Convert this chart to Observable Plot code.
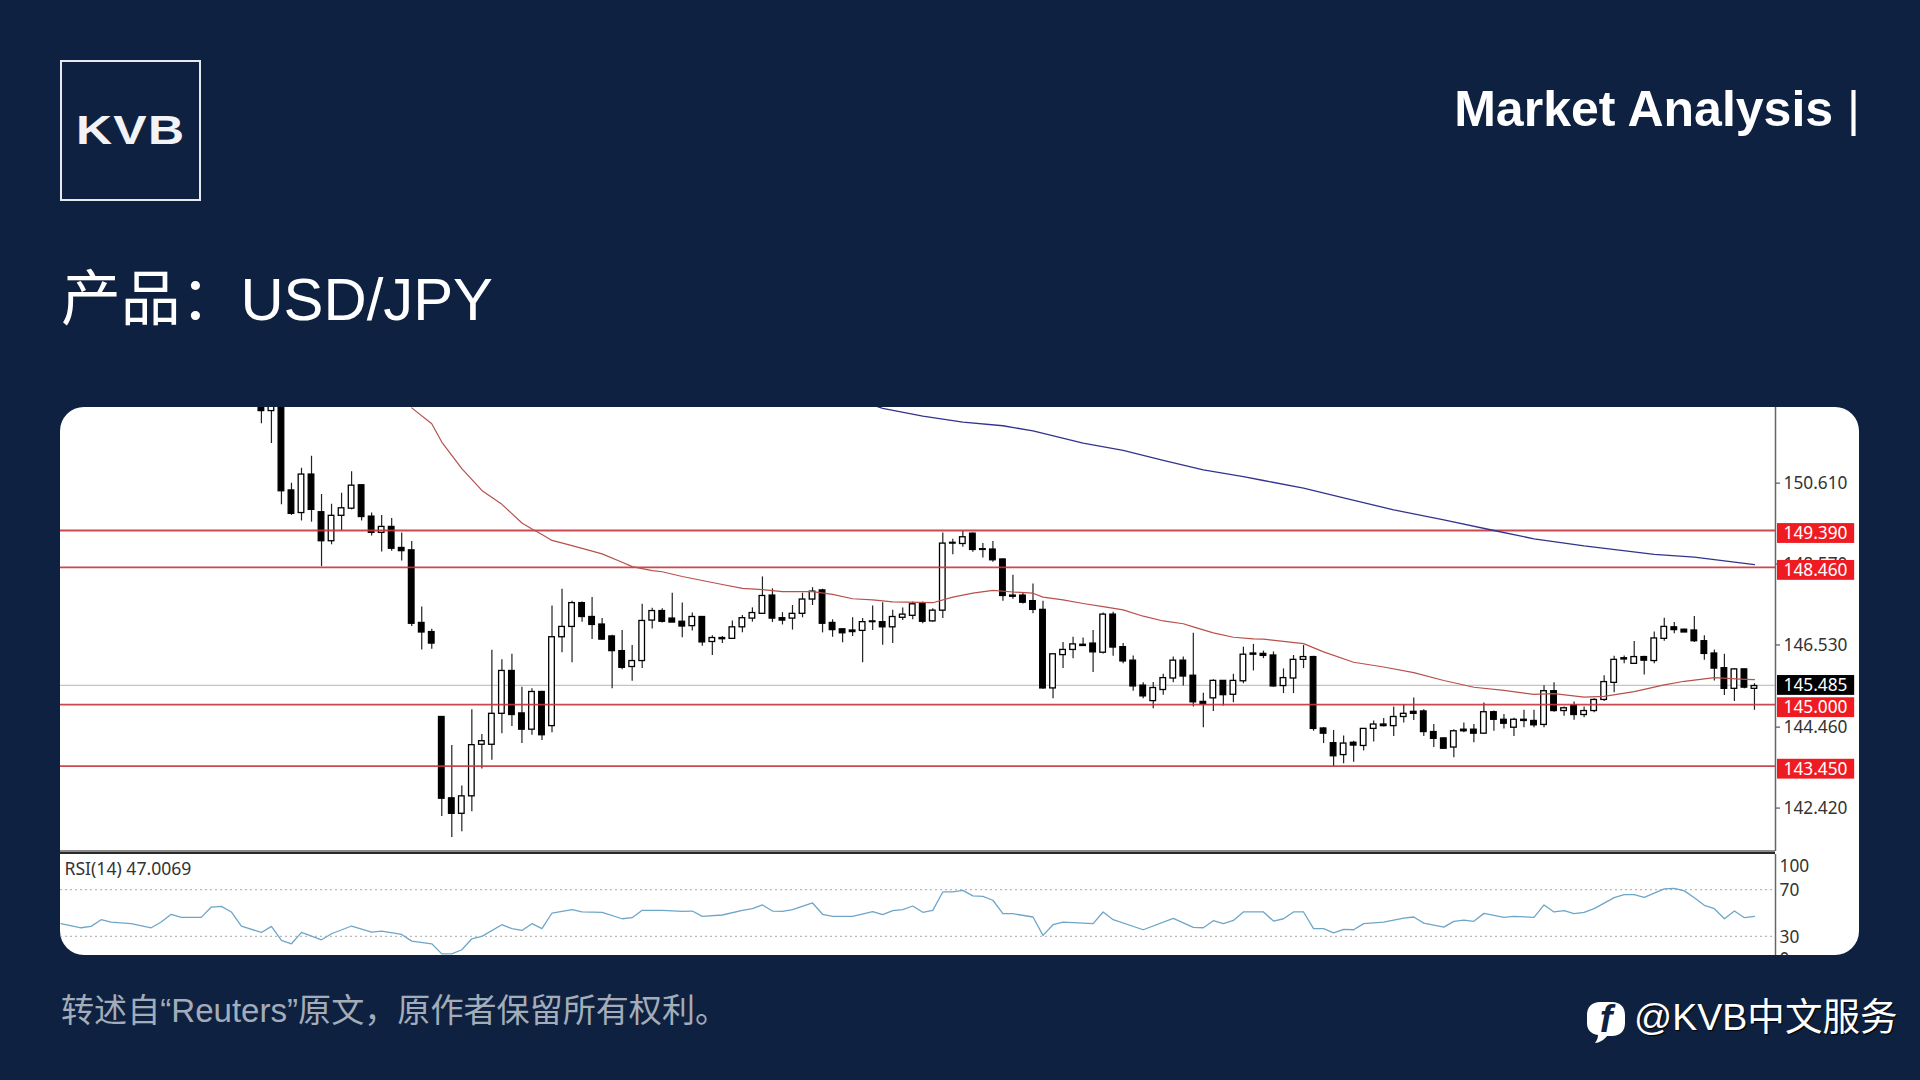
<!DOCTYPE html>
<html lang="zh"><head><meta charset="utf-8">
<script src="https://cdn.jsdelivr.net/npm/d3@7"></script>
<script src="https://cdn.jsdelivr.net/npm/@observablehq/plot@0.6"></script>
<style>
html,body{margin:0;padding:0;width:1920px;height:1080px;background:#0f2140;overflow:hidden}
body{position:relative;font-family:"Liberation Sans","Noto Sans CJK SC",sans-serif;color:#fff}
.abs{position:absolute;white-space:nowrap;line-height:1}
#panel{position:absolute;left:60px;top:407px;width:1799px;height:548px;background:#fff;border-radius:24px;overflow:hidden}
#main{position:absolute;left:0;top:0}
#rsi{position:absolute;left:0;top:447px}
#sepA{position:absolute;left:0;top:443px;width:1715px;height:2px;background:#8a8a8a}
#sepB{position:absolute;left:0;top:445px;width:1715px;height:2px;background:#2a2a2a}
svg text{font-family:inherit}
</style></head><body>
<div class="abs" style="left:60px;top:60px;width:137px;height:137px;border:2px solid #e6e9ef"></div>
<div class="abs" id="logo" style="left:76px;top:110px;font-size:40px;font-weight:700;letter-spacing:1px;transform:scaleX(1.25);transform-origin:left center;color:#f2f3f6">KVB</div>
<div class="abs" style="right:60px;top:84px;font-size:50px;font-weight:700">Market Analysis <span style="font-weight:400">|</span></div>
<div class="abs" style="left:61px;top:270px;font-size:59.8px">产品：USD/JPY</div>
<div id="panel"><div id="main"></div><div id="sepA"></div><div id="sepB"></div><div id="rsi"></div></div>
<div class="abs" style="left:61px;top:993.5px;font-size:33.1px;color:#a3adba">转述自“Reuters”原文，原作者保留所有权利。</div>
<svg class="abs" style="left:1587px;top:1002px" width="38" height="41" viewBox="0 0 38 41">
<path d="M13 0H25C33 0 38 5 38 13V21C38 29 33 34 25 34H20C17 38 12 41 8 41C10 38 11 36 11 33C4 32 0 28 0 21V13C0 5 5 0 13 0Z" fill="#fff"/>
<text x="19" y="30" text-anchor="middle" font-size="38" font-weight="700" font-style="italic" fill="#0f2140" font-family="Liberation Serif">f</text></svg>
<div class="abs" style="left:1634px;top:999px;font-size:37.6px;text-shadow:1px 1px 1px #000">@KVB中文服务</div>
<script>
// Candles (USD/JPY, prices)
const open=[152.7,152.40,152.9,150.40,149.83,150.80,149.85,149.12,149.76,149.94,150.53,149.74,149.33,149.48,148.95,148.89,147.06,146.83,144.69,142.64,142.25,142.69,143.99,143.99,144.77,145.85,144.78,144.37,145.32,144.46,146.70,146.96,147.56,147.21,147.02,146.72,146.35,145.95,146.10,147.12,147.36,147.17,147.09,146.98,147.21,146.58,146.68,146.66,146.95,147.17,147.29,147.75,147.18,147.17,147.29,147.65,147.88,147.06,146.90,146.87,146.86,147.08,147.08,146.95,147.19,147.24,147.54,147.10,147.37,149.08,149.05,149.31,148.92,148.91,148.66,147.75,147.75,147.61,147.39,145.41,146.25,146.38,146.51,146.54,146.31,147.27,146.45,146.11,145.48,145.09,145.37,145.66,146.11,145.73,145.07,145.16,145.60,145.25,145.59,146.29,146.28,146.24,145.47,145.66,146.13,146.20,144.40,144.03,143.73,144.04,143.96,144.39,144.50,144.46,144.69,144.82,144.83,144.31,144.15,143.92,144.37,144.37,144.27,144.81,144.62,144.42,144.62,144.59,144.49,145.34,144.84,144.98,144.74,144.84,145.12,145.55,146.17,146.03,146.20,146.10,146.66,146.95,146.89,146.87,146.60,146.29,145.92,145.40,145.89,145.40];
const high=[152.9,153.0,153.0,150.58,150.96,151.26,150.30,150.05,150.33,150.87,150.53,149.83,149.77,149.69,149.33,149.11,147.46,146.90,144.69,143.97,142.95,144.87,144.25,146.37,146.13,146.27,145.44,145.40,145.34,147.49,147.91,147.61,147.59,147.70,147.17,146.75,146.87,146.49,147.53,147.43,147.42,147.81,147.56,147.31,147.22,146.74,146.72,147.11,147.25,147.44,148.22,147.92,147.32,147.50,147.81,147.95,147.91,147.14,146.90,147.19,147.17,147.49,147.57,147.38,147.44,147.59,147.59,147.42,149.33,149.17,149.37,149.33,149.06,149.11,148.67,148.26,147.80,148.04,147.61,146.27,146.57,146.70,146.68,146.87,147.31,147.33,146.54,146.23,145.55,145.56,145.77,146.20,146.20,146.80,145.29,145.63,145.60,145.77,146.45,146.52,146.35,146.33,145.90,146.24,146.49,146.22,144.42,144.35,144.21,144.08,144.39,144.59,144.65,144.94,145.00,145.17,144.87,144.50,144.16,144.37,144.54,144.50,145.04,144.84,144.75,144.66,144.86,144.86,145.48,145.55,144.94,145.07,144.94,145.15,145.73,146.22,146.23,146.59,146.22,146.83,147.18,147.07,146.90,147.22,146.74,146.38,146.27,145.91,145.90,145.53];
const low=[152.08,151.58,150.04,149.77,149.63,149.60,148.48,149.03,149.39,149.91,149.63,149.25,148.85,148.87,148.62,146.97,146.38,146.40,142.18,141.65,141.80,142.30,143.38,143.60,144.27,144.45,144.02,144.23,144.10,144.29,146.31,146.06,147.08,146.64,146.62,145.40,145.88,145.59,145.91,146.91,147.06,147.07,146.69,146.86,146.47,146.24,146.54,146.65,146.81,147.08,147.28,147.07,147.01,146.88,147.19,147.50,146.81,146.70,146.56,146.72,146.06,146.87,146.50,146.54,147.12,147.14,147.04,147.08,147.17,148.78,148.97,148.84,148.70,148.59,147.61,147.66,147.54,147.29,145.39,145.15,145.91,146.16,146.47,145.81,146.28,146.22,146.03,145.34,145.15,144.90,145.24,145.55,145.47,144.94,144.42,144.83,144.97,145.05,145.53,145.85,146.16,145.44,145.28,145.28,145.91,144.33,144.02,143.44,143.51,143.55,143.83,144.06,144.44,144.20,144.54,144.60,144.20,143.92,143.89,143.66,144.29,144.04,144.25,144.33,144.39,144.20,144.42,144.42,144.42,144.81,144.71,144.61,144.67,144.80,145.08,145.30,146.03,146.02,145.75,146.03,146.60,146.79,146.82,146.57,146.12,145.60,145.23,145.08,145.40,144.86];
const close=[152.40,152.6,150.38,149.81,150.80,149.91,149.12,149.76,149.95,150.52,149.73,149.33,149.48,148.93,148.87,147.04,146.82,146.54,142.63,142.25,142.69,143.98,144.08,144.77,145.85,144.74,144.37,145.32,144.23,146.70,146.96,147.56,147.21,147.01,146.64,146.35,145.93,146.10,147.11,147.36,147.09,147.07,146.97,147.21,146.57,146.68,146.65,146.95,147.18,147.31,147.74,147.17,147.12,147.29,147.65,147.85,147.04,146.88,146.80,146.83,147.08,147.10,146.95,147.21,147.27,147.53,147.09,147.37,149.06,149.06,149.22,148.90,148.90,148.64,147.74,147.72,147.57,147.39,145.41,146.27,146.38,146.52,146.48,146.32,147.27,146.44,146.09,145.46,145.21,145.42,145.67,146.11,145.71,145.06,145.01,145.60,145.24,145.60,146.26,146.26,146.23,145.46,145.67,146.13,146.20,144.39,144.27,143.70,144.02,143.97,144.39,144.50,144.46,144.69,144.77,144.77,144.31,144.14,143.89,144.33,144.33,144.27,144.81,144.62,144.52,144.62,144.59,144.48,145.34,144.84,144.91,144.74,144.84,145.12,145.57,146.13,146.14,146.20,146.11,146.67,146.96,146.88,146.82,146.60,146.28,145.91,145.40,145.89,145.43,145.47];
// Moving averages: candle index and price at the vertices
const ma50Index=[15,17,18,20,22,24,26,27,28,29,31,34,36,37,39,40,42,44,46,48,50,52,55,57,59,61,63,67,69,71,73,75,77,78,80,82,84,86,88,90,92,93,95,97,99,100,104,106,109,112,115,118,121,124,127,129,132,134,137,140,142,145,148,149];
const ma50Price=[152.48,152.08,151.62,150.95,150.40,150.05,149.58,149.43,149.29,149.14,149.01,148.80,148.59,148.48,148.38,148.35,148.23,148.13,148.03,147.93,147.90,147.85,147.85,147.78,147.67,147.64,147.59,147.57,147.71,147.81,147.88,147.84,147.81,147.71,147.64,147.55,147.47,147.39,147.23,147.11,147.04,146.96,146.81,146.70,146.66,146.65,146.54,146.33,146.07,145.95,145.81,145.61,145.44,145.36,145.26,145.28,145.19,145.21,145.33,145.50,145.59,145.68,145.64,145.63];
const ma200Index=[61,62,66,70,74,77,82,86,90,94,98,100,104,108,113,118,123,127,132,139,143,149];
const ma200Price=[152.55,152.47,152.27,152.12,152.03,151.90,151.59,151.41,151.16,150.92,150.75,150.65,150.46,150.21,149.91,149.66,149.39,149.18,149.00,148.79,148.72,148.53];
// Horizontal levels and axis labels
const redLevels=[149.39,148.46,145.00,143.45];
const lastPrice=[145.485];
const priceTicks=[150.61,148.57,146.53,144.46,142.42];
// RSI(14)
const rsiIndex=[-20,-18,-17,-16,-15,-13,-11,-10,-9,-8,-6,-5,-4,-3,-2,0,1,2,3,4,6,7,9,11,12,14,15,17,18,19,20,21,22,24,25,26,27,28,29,31,32,34,36,37,38,40,42,43,44,46,48,49,50,51,52,53,55,56,57,59,61,62,63,64,65,66,67,68,69,70,71,72,73,74,75,77,78,79,80,83,84,85,88,91,93,94,95,96,97,98,100,101,102,103,104,105,106,107,108,109,110,112,114,115,116,118,119,120,121,122,124,125,127,128,129,130,131,132,133,135,136,137,138,140,141,142,143,144,145,146,147,148,149];
const rsiValue=[40.9,37.4,38.6,44.3,42.3,40.9,37.4,42.3,48.9,46.3,46.3,55.1,55.7,50.9,38.9,33.4,38.6,26.6,23.7,33.4,27.1,32.3,38.9,33.7,34.6,31.7,26,23.7,15.1,15.1,18.6,28,30,40,36.6,35.1,40.9,36.6,50,52.9,50.9,50.6,45.1,46,52.3,52.3,51.4,51.7,47.1,48.3,52.3,53.7,56.9,51.7,51.4,52.9,58.6,48.9,47.1,47.1,51.1,48.6,52,52.9,56,50.6,52.3,68,68,69.4,64.6,64.3,60.9,49.4,49.4,46.6,30.9,40,42.3,40.9,50.9,44.3,35.7,45.4,37.7,37.4,43.4,40.9,43.7,50.9,50.9,43.1,45.1,50.9,50.9,36.6,36.6,33.1,36,35.7,40.9,42.3,45.7,46.6,41.4,38,42.9,44,42.9,49.7,46.3,47.1,46.3,56.9,50.9,52,49.4,50.6,53.7,63.1,65.7,65.7,63.4,70.6,71.1,68.9,63.1,56.6,53.7,45.1,51.7,46,47.1];
const rsiLevels=[70,30];
const rsiLabel="RSI(14) 47.0069";

const candles=open.map((o,i)=>({i,o,c:close[i],h:high[i],l:low[i]}));
const bull=candles.filter(d=>d.c>=d.o), bear=candles.filter(d=>d.c<d.o);
const xDomain=[-20.05,151.1];
const axisFont='"Noto Sans",sans-serif';
const lineRows=(ix,v)=>ix.map((i,k)=>({i,v:v[k]}));
const labelX1=151.3,labelX2=159,labelTextX=151.9,halfBox=0.25;
const labelBox=(data,fill,dy)=>[
  Plot.rect(data,{x1:()=>labelX1,x2:()=>labelX2,y1:d=>d-halfBox,y2:d=>d+halfBox,fill,dy}),
  Plot.text(data,{x:()=>labelTextX,y:d=>d,text:d=>d3.format(".3f")(d),fill:"#fff",textAnchor:"start",fontSize:17.3,dy})
];
const body=(data,fill)=>Plot.rect(data,{x1:d=>d.i-0.28,x2:d=>d.i+0.28,y1:d=>Math.min(d.o,d.c),y2:d=>Math.max(d.o,d.c),fill,stroke:"#000",strokeWidth:1.3,clip:true});

const main=Plot.plot({
  width:1799,height:444,marginLeft:0,marginRight:84,marginTop:0,marginBottom:0,
  style:{background:"transparent",fontFamily:axisFont,overflow:"hidden"},
  x:{domain:xDomain,axis:null},
  y:{domain:[141.30,152.49],axis:null},
  marks:[
    Plot.axisY(priceTicks,{anchor:"right",label:null,tickSize:4,tickPadding:4,tickFormat:d3.format(".3f"),fontSize:17.3,color:"#333",dy:1}),
    Plot.ruleY(lastPrice,{stroke:"#c4c4c4",strokeWidth:1.3}),
    Plot.ruleX(candles,{x:"i",y1:"l",y2:"h",stroke:"#222",strokeWidth:1.2,clip:true}),
    body(bear,"#000"),body(bull,"#fff"),
    Plot.ruleY(redLevels,{stroke:"#c4343c",strokeWidth:1.8,strokeOpacity:.9}),
    Plot.line(lineRows(ma50Index,ma50Price),{x:"i",y:"v",stroke:"#b8504c",strokeWidth:1.2,clip:true}),
    Plot.line(lineRows(ma200Index,ma200Price),{x:"i",y:"v",stroke:"#33338f",strokeWidth:1.3,clip:true}),
    Plot.ruleX([xDomain[1]],{stroke:"#666",strokeWidth:1.5}),
    ...labelBox(redLevels,"#ee1c22",3),
    ...labelBox(lastPrice,"#000",0)
  ]
});
document.getElementById("main").append(main);

const rsi=Plot.plot({
  width:1799,height:101,marginLeft:0,marginRight:84,marginTop:0,marginBottom:0,
  style:{background:"transparent",fontFamily:axisFont,overflow:"hidden"},
  x:{domain:xDomain,axis:null},
  y:{domain:[13.7,100],axis:null},
  marks:[
    Plot.ruleY(rsiLevels,{stroke:"#b9b9b9",strokeWidth:1.2,strokeDasharray:"2,3"}),
    Plot.line(lineRows(rsiIndex,rsiValue),{x:"i",y:"v",stroke:"#6ea6c8",strokeWidth:1.3}),
    Plot.ruleX([xDomain[1]],{stroke:"#666",strokeWidth:1.5}),
    Plot.text(rsiLevels,{x:()=>xDomain[1],y:d=>d,text:d=>String(d),textAnchor:"start",dx:4,dy:1,fontSize:17.3,fill:"#333"}),
    Plot.text([100],{x:()=>xDomain[1],y:d=>d,text:d=>String(d),textAnchor:"start",dx:4,dy:12,fontSize:17.3,fill:"#333"}),
    Plot.text([13.7],{x:()=>xDomain[1],y:d=>d,text:()=>"0",textAnchor:"start",dx:4,dy:4,fontSize:17.3,fill:"#333"}),
    Plot.text([rsiLabel],{x:()=>xDomain[0],y:()=>87,text:d=>d,textAnchor:"start",dx:4,fontSize:17.6,fill:"#333"})
  ]
});
document.getElementById("rsi").append(rsi);
</script>
</body></html>
